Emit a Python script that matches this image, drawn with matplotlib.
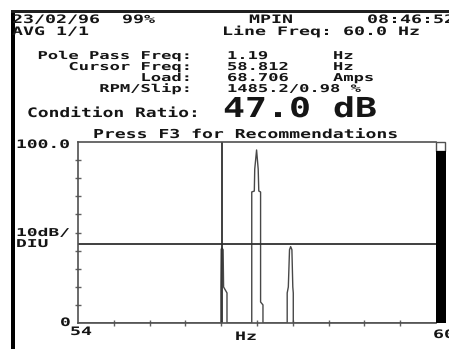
import matplotlib
matplotlib.use("Agg")
import matplotlib.pyplot as plt
from matplotlib import patheffects
from matplotlib.patches import Rectangle
from matplotlib.transforms import Affine2D

W, H = 449, 349
TEXT = "#151515"
TRACE = "#484848"

# spectrum trace
freq_hz = [54.0, 56.395, 56.395, 56.400, 56.413, 56.432, 56.440, 56.497, 56.497,
           56.912, 56.912, 56.955, 56.962, 56.993, 57.020, 57.030, 57.060, 57.060, 57.100, 57.100,
           57.506, 57.506, 57.525, 57.545, 57.564, 57.585, 57.600, 57.608, 57.608, 60.0]
level_db = [0, 0, 20.0, 40.8, 41.4, 40.5, 19.9, 16.6, 0,
            0, 72.4, 72.9, 85.0, 95.6, 85.0, 72.9, 72.4, 11.6, 10.0, 0,
            0, 16.6, 19.9, 40.5, 42.2, 40.5, 19.9, 16.6, 0, 0]
ref_db = 43.5
cursor_hz = 56.42
x_ticks = [54.6, 55.2, 55.8, 56.4, 57.0, 57.6, 58.2, 58.8, 59.4]
y_ticks = [10, 20, 30, 40, 50, 60, 70, 80, 90]

header_lines = [
    ("23/02/96  99%", 12, 23),
    ("MPIN", 249, 23),
    ("08:46:52", 367, 23),
    ("AVG 1/1", 12, 35),
    ("Line Freq: 60.0 Hz", 222, 35),
]
param_names = ["Pole Pass Freq:", "Cursor Freq:", "Load:", "RPM/Slip:"]
param_values = ["1.19", "58.812", "68.706", "1485.2/0.98 %"]
param_units = ["Hz", "Hz", "Amps", ""]
param_rows = [59, 70, 81, 92]


class Stretch(patheffects.AbstractPathEffect):
    """Widen glyphs horizontally to mimic the wide LCD font."""

    def __init__(self, sx):
        super().__init__()
        self.sx = sx

    def draw_path(self, renderer, gc, tpath, affine, rgbFace=None):
        renderer.draw_path(gc, tpath, Affine2D().scale(self.sx, 1.0) + affine, rgbFace)


fig = plt.figure(figsize=(W / 100, H / 100), dpi=100)


def screen_text(x, y, s, cap=8.5, adv=11.0, ha="left"):
    # x, y: left (or right) edge and baseline, in pixels from the top-left corner
    size_px = cap / 0.729
    sx = adv / (0.602 * size_px)
    if ha == "right":
        x -= len(s) * adv
    fig.text(x / W, 1 - y / H, s, fontsize=size_px * 0.72, family="DejaVu Sans Mono",
             weight="bold", color=TEXT, ha="left", va="baseline",
             path_effects=[Stretch(sx)])


# screen frame
fig.add_artist(Rectangle((11 / W, 0), 4 / W, (H - 10) / H, transform=fig.transFigure,
                         facecolor="black", edgecolor="none"))
fig.add_artist(Rectangle((11 / W, 1 - 12.5 / H), (W - 11) / W, 2.5 / H, transform=fig.transFigure,
                         facecolor="#202020", edgecolor="none"))

for s, x, y in header_lines:
    screen_text(x, y, s)

for name, value, unit, y in zip(param_names, param_values, param_units, param_rows):
    screen_text(192, y, name, cap=7.9, adv=10.3, ha="right")
    screen_text(227, y, value, cap=7.9, adv=10.3)
    if unit:
        screen_text(333, y, unit, cap=7.9, adv=10.3)

screen_text(27, 117, "Condition Ratio:", cap=9.5, adv=10.8)
screen_text(223, 117, "47.0 dB", cap=20, adv=22)
screen_text(93, 138, "Press F3 for Recommendations", cap=9, adv=10.9)

# spectrum plot
ax = fig.add_axes([78 / W, 1 - 323 / H, (436 - 78) / W, (323 - 142) / H])
ax.plot(freq_hz, level_db, color=TRACE, lw=1.0)
ax.axhline(ref_db, color="#303030", lw=1.3)
ax.axvline(cursor_hz, color="#303030", lw=1.3)
ax.set_xlim(54, 60)
ax.set_ylim(0, 100)
ax.set_xticks(x_ticks)
ax.set_yticks(y_ticks)
ax.tick_params(direction="inout", length=4, width=1, colors="#606060",
               labelleft=False, labelbottom=False)
ax.spines["right"].set_visible(False)
for side in ["left", "bottom", "top"]:
    ax.spines[side].set_color("#505050")
    ax.spines[side].set_linewidth(1.2)

# scroll bar on the right
fig.add_artist(Rectangle((436 / W, 1 - 151 / H), 9 / W, 9 / H, transform=fig.transFigure,
                         facecolor="white", edgecolor="#505050", lw=1))
fig.add_artist(Rectangle((436 / W, 1 - 323 / H), 10 / W, (323 - 151) / H, transform=fig.transFigure,
                         facecolor="black", edgecolor="none"))

screen_text(16, 148, "100.0", adv=10.8)
screen_text(16, 236, "10dB/", cap=7.9, adv=10.8)
screen_text(16, 247, "DIU", cap=7.9, adv=10.8)
screen_text(60, 326, "0", adv=10.8)
screen_text(70, 335, "54", adv=11)
screen_text(235, 340, "Hz", adv=11)
screen_text(433, 338, "60", adv=11)

fig.savefig("out.png", dpi=100)
